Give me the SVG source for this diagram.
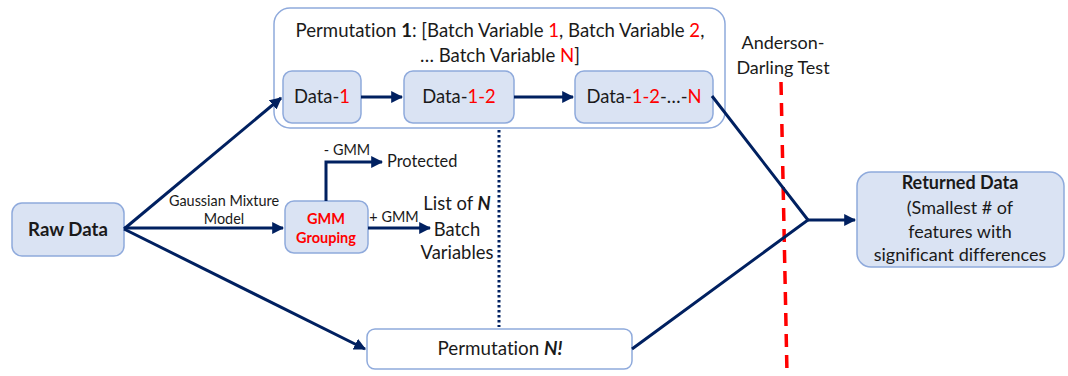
<svg xmlns="http://www.w3.org/2000/svg" width="1068" height="376" viewBox="0 0 1068 376">
  <style>
    .node { fill: #dae3f3; stroke: #8faadc; stroke-width: 1.5; }
    .frame { fill: #ffffff; stroke: #8faadc; stroke-width: 1.5; }
    .t { font-family: Lato, "Open Sans", sans-serif; fill: #1a1a1a; text-anchor: middle; font-variant-ligatures: none; }
    .r { fill: #ff0000; }
    .b { font-weight: bold; }
    .wire { fill: none; stroke: #002060; stroke-width: 3; }
    .arrow { fill: none; stroke: #002060; stroke-width: 3; marker-end: url(#head); }
  </style>
  <defs>
    <marker id="head" viewBox="0 0 10 10" refX="9" refY="5" markerWidth="4" markerHeight="4" markerUnits="strokeWidth" orient="auto">
      <path d="M0,0 L10,5 L0,10 z" fill="#002060"/>
    </marker>
  </defs>

  <rect width="1068" height="376" fill="#ffffff"/>

  <!-- permutation 1 frame -->
  <g id="permutation-1">
    <rect class="frame" x="274" y="8" width="451" height="120" rx="16"/>
    <text class="t" x="500" y="37" font-size="18.6">Permutation <tspan class="b">1</tspan>: [Batch Variable <tspan class="r">1</tspan>, Batch Variable <tspan class="r">2</tspan>,</text>
    <text class="t" x="500" y="62" font-size="18.6">… Batch Variable <tspan class="r">N</tspan>]</text>
  </g>

  <g id="data-1">
    <rect class="node" x="283" y="71" width="78" height="52" rx="9"/>
    <text class="t" x="322" y="103" font-size="18.4">Data-<tspan class="r">1</tspan></text>
  </g>
  <g id="data-1-2">
    <rect class="node" x="404" y="71" width="110" height="52" rx="9"/>
    <text class="t" x="459" y="103" font-size="18.4">Data-<tspan class="r">1-2</tspan></text>
  </g>
  <g id="data-1-2-n">
    <rect class="node" x="575" y="71" width="138" height="52" rx="9"/>
    <text class="t" x="644" y="103" font-size="18.4">Data-<tspan class="r">1-2</tspan>-…-<tspan class="r">N</tspan></text>
  </g>

  <g id="raw-data">
    <rect class="node" x="12" y="203" width="112" height="53" rx="10"/>
    <text class="t b" x="68" y="236" font-size="18.6">Raw Data</text>
  </g>

  <g id="gmm-grouping">
    <rect class="node" x="285" y="201" width="83" height="52" rx="9"/>
    <text class="t b r" x="326" y="224" font-size="14.5">GMM</text>
    <text class="t b r" x="326" y="243" font-size="14.5">Grouping</text>
  </g>

  <g id="protected">
    <text class="t" x="387" y="167" font-size="16.4" style="text-anchor:start">Protected</text>
  </g>

  <g id="batch-variables">
    <text class="t" x="457" y="210" font-size="18.4">List of <tspan class="b" font-style="italic">N</tspan></text>
    <text class="t" x="457" y="236" font-size="18.4">Batch</text>
    <text class="t" x="457" y="259" font-size="18.4">Variables</text>
  </g>

  <g id="permutation-n">
    <rect class="frame" x="367" y="329" width="265" height="40" rx="8"/>
    <text class="t" x="500" y="355" font-size="18.8">Permutation <tspan class="b" font-style="italic">N!</tspan></text>
  </g>

  <g id="returned-data">
    <rect class="node" x="857" y="172" width="207" height="95" rx="14"/>
    <text class="t b" x="960" y="189" font-size="18">Returned Data</text>
    <text class="t" x="960" y="214" font-size="18">(Smallest # of</text>
    <text class="t" x="960" y="238" font-size="18">features with</text>
    <text class="t" x="960" y="261" font-size="18">significant differences</text>
  </g>

  <g id="anderson-darling">
    <text class="t" x="783" y="49" font-size="18">Anderson-</text>
    <text class="t" x="783" y="74" font-size="18">Darling Test</text>
    <line x1="781" y1="82" x2="787" y2="374" stroke="#ff0000" stroke-width="3.5" stroke-dasharray="13,8"/>
  </g>

  <!-- connectors -->
  <g id="connectors">
    <line class="arrow" x1="124" y1="229" x2="281" y2="98"/>
    <line class="arrow" x1="124" y1="228" x2="283" y2="228"/>
    <line class="arrow" x1="124" y1="229" x2="365" y2="349"/>
    <line class="arrow" x1="361" y1="97" x2="402" y2="97"/>
    <line class="arrow" x1="514" y1="97" x2="573" y2="97"/>
    <polyline class="arrow" points="326,201 326,162 382,162"/>
    <line class="arrow" x1="368" y1="228" x2="430" y2="228"/>
    <polyline class="wire" points="712,96 808,220 632,349"/>
    <line class="arrow" x1="808" y1="220" x2="855" y2="220"/>
    <line x1="499" y1="130" x2="499" y2="327" stroke="#002060" stroke-width="3" stroke-dasharray="2.5,2.5"/>
  </g>

  <!-- connector labels -->
  <g id="labels">
    <text class="t" x="224" y="206" font-size="14.4">Gaussian Mixture</text>
    <text class="t" x="224" y="224" font-size="14.4">Model</text>
    <text class="t" x="347" y="155" font-size="14.4">- GMM</text>
    <text class="t" x="394" y="222" font-size="14.4">+ GMM</text>
  </g>
</svg>
